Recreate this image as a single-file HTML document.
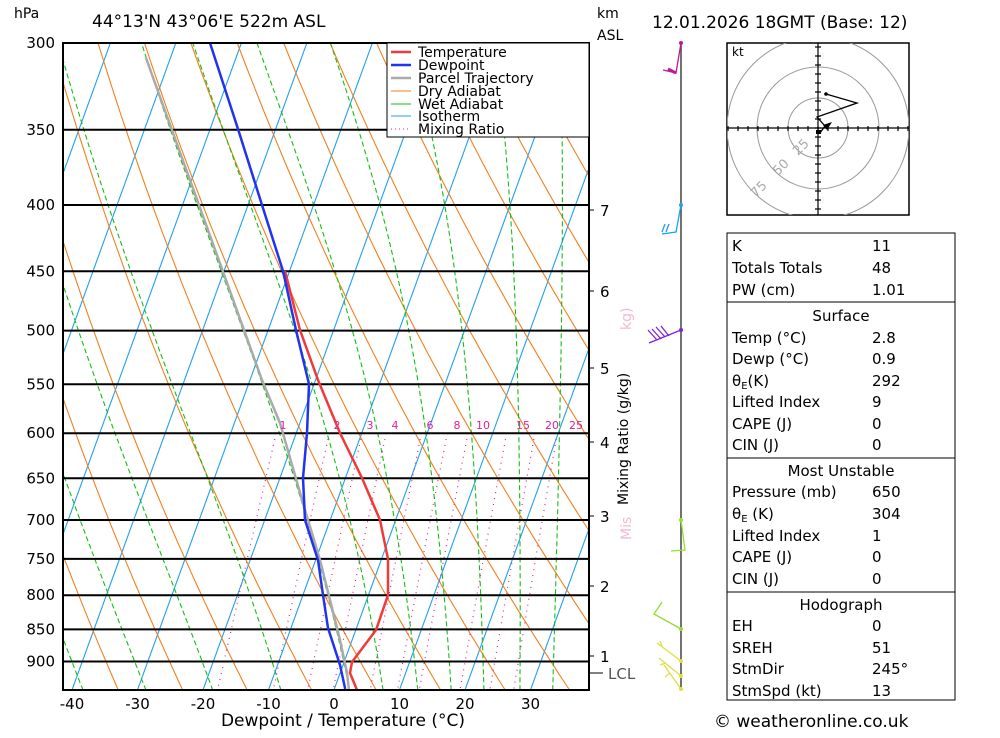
<!DOCTYPE html>
<html><head><meta charset="utf-8"><style>
body{margin:0;background:#fff;width:1000px;height:733px;overflow:hidden;font-family:"Liberation Sans","DejaVu Sans",sans-serif}
svg text{font-family:"DejaVu Sans","Liberation Sans",sans-serif}
</style></head><body>
<svg id="s" width="1000" height="733" xmlns="http://www.w3.org/2000/svg">
<defs><clipPath id="c"><rect x="63" y="43" width="526" height="647"/></clipPath>
<clipPath id="hc"><rect x="727" y="43" width="182" height="172"/></clipPath></defs>
<g id="bg" clip-path="url(#c)"></g>
<g id="iso" stroke="#000" stroke-width="2"></g>
<g id="prof" clip-path="url(#c)"></g>
<rect x="63" y="43" width="526" height="647" fill="none" stroke="#000" stroke-width="2"/>
<g font-size="15" fill="#000" text-anchor="end" id="plab"></g>
<text x="14" y="18" font-size="14">hPa</text>
<text x="92" y="27" font-size="17">44°13'N  43°06'E  522m  ASL</text>
<text x="597" y="18" font-size="14">km</text>
<text x="597" y="40" font-size="14">ASL</text>
<text x="652" y="28" font-size="17">12.01.2026  18GMT  (Base: 12)</text>
<g font-size="15" text-anchor="middle" id="tlab"></g>
<text x="343" y="726" font-size="17" text-anchor="middle">Dewpoint / Temperature (°C)</text>
<g font-size="11" fill="#e0209a" text-anchor="middle" id="mlab"></g>
<text transform="translate(628,505) rotate(-90)" font-size="14" fill="#000">Mixing Ratio (g/kg)</text>
<text transform="translate(631,540) rotate(-90)" font-size="14" fill="#f4b8d4">Mis</text>
<text transform="translate(631,330) rotate(-90)" font-size="14" fill="#f4b8d4">kg)</text>
<!-- legend -->
<rect x="387" y="43" width="202" height="94" fill="#fff" stroke="#000" stroke-width="1"/>
<g font-size="14">
<line x1="391" y1="52" x2="411" y2="52" stroke="#f03a3a" stroke-width="2.5"/><text x="418" y="57">Temperature</text>
<line x1="391" y1="65" x2="411" y2="65" stroke="#2233ee" stroke-width="2.5"/><text x="418" y="70">Dewpoint</text>
<line x1="391" y1="78" x2="411" y2="78" stroke="#aaa" stroke-width="2.5"/><text x="418" y="83">Parcel Trajectory</text>
<line x1="391" y1="91" x2="411" y2="91" stroke="#f08020" stroke-width="1"/><text x="418" y="96">Dry Adiabat</text>
<line x1="391" y1="104" x2="411" y2="104" stroke="#10c010" stroke-width="1"/><text x="418" y="109">Wet Adiabat</text>
<line x1="391" y1="116" x2="411" y2="116" stroke="#20a0f0" stroke-width="1"/><text x="418" y="121">Isotherm</text>
<line x1="391" y1="129" x2="411" y2="129" stroke="#e0209a" stroke-width="1" stroke-dasharray="1,3"/><text x="418" y="134">Mixing Ratio</text>
</g>
<g font-size="15" id="km"></g>
<line x1="681" y1="43" x2="681" y2="690" stroke="#444" stroke-width="1.5"/>
<g stroke-width="1.3" fill="none">
<polyline points="681,43 676,73 663,70" stroke="#c0189a"/><circle cx="681" cy="43" r="2" fill="#c0189a"/>
<path d="M668,69 L676,73" stroke="#c0189a" stroke-width="3"/>
<polyline points="681,205 676,232 662,234" stroke="#20a0f0"/><path d="M665,224 L662,232 M669,224 L666,232" stroke="#20a0f0"/><circle cx="681" cy="205" r="2" fill="#20a0f0"/>
<polyline points="681,330 649,343" stroke="#8020e0"/><path d="M657,340 L648,330 M661,339 L652,329 M665,337 L656,327 M669,336 L661,326" stroke="#8020e0"/><circle cx="681" cy="330" r="2" fill="#8020e0"/>
<polyline points="681,520 685,550 671,551" stroke="#90e030"/><circle cx="681" cy="520" r="2" fill="#90e030"/>
<polyline points="681,629 654,614 662,602" stroke="#90e030"/><circle cx="681" cy="629" r="2" fill="#90e030"/>
<path d="M681,661 L657,643 M662,646 L660,641 M681,676 L659,658 M666,663 L660,665 M681,689 L664,665 M670,673 L665,677" stroke="#e0e040"/>
<circle cx="681" cy="661" r="2" fill="#e0e040"/><circle cx="681" cy="676" r="2" fill="#e0e040"/><circle cx="681" cy="689" r="2" fill="#e0e040"/>
</g>
<rect x="727" y="43" width="182" height="172" fill="#fff" stroke="#000" stroke-width="1.5"/>
<g clip-path="url(#hc)" fill="none" stroke="#999">
<circle cx="818" cy="128" r="30"/><circle cx="818" cy="128" r="61"/><circle cx="818" cy="128" r="91"/>
</g>
<g stroke="#000" stroke-width="1.2" id="hax"></g>
<text x="732" y="56" font-size="12">kt</text>
<g fill="#aaa" font-size="13"><text transform="translate(798,156) rotate(-45)">25</text><text transform="translate(778,176) rotate(-45)">50</text><text transform="translate(756,198) rotate(-45)">75</text></g>
<polyline points="826,94 857,103 817,117 825,126 820,133" fill="none" stroke="#000" stroke-width="1.3"/>
<circle cx="826" cy="94" r="1.8"/><path d="M823,125 L832,122 L827,130Z"/><rect x="816" y="130" width="5" height="4"/>
<rect x="727" y="233" width="228" height="467" fill="#fff" stroke="#000" stroke-width="1"/>
<g stroke="#000"><line x1="727" y1="302" x2="955" y2="302"/><line x1="727" y1="458" x2="955" y2="458"/><line x1="727" y1="592" x2="955" y2="592"/></g>
<g font-size="15">
<text x="732" y="251">K</text><text x="872" y="251">11</text>
<text x="732" y="273">Totals Totals</text><text x="872" y="273">48</text>
<text x="732" y="295">PW (cm)</text><text x="872" y="295">1.01</text>
<text x="841" y="321" text-anchor="middle">Surface</text>
<text x="732" y="343">Temp (°C)</text><text x="872" y="343">2.8</text>
<text x="732" y="364">Dewp (°C)</text><text x="872" y="364">0.9</text>
<text x="732" y="386">θ<tspan font-size="10" dy="3">E</tspan><tspan dy="-3">(K)</tspan></text><text x="872" y="386">292</text>
<text x="732" y="407">Lifted Index</text><text x="872" y="407">9</text>
<text x="732" y="429">CAPE (J)</text><text x="872" y="429">0</text>
<text x="732" y="450">CIN (J)</text><text x="872" y="450">0</text>
<text x="841" y="476" text-anchor="middle">Most Unstable</text>
<text x="732" y="497">Pressure (mb)</text><text x="872" y="497">650</text>
<text x="732" y="519">θ<tspan font-size="10" dy="3">E</tspan><tspan dy="-3"> (K)</tspan></text><text x="872" y="519">304</text>
<text x="732" y="541">Lifted Index</text><text x="872" y="541">1</text>
<text x="732" y="562">CAPE (J)</text><text x="872" y="562">0</text>
<text x="732" y="584">CIN (J)</text><text x="872" y="584">0</text>
<text x="841" y="610" text-anchor="middle">Hodograph</text>
<text x="732" y="631">EH</text><text x="872" y="631">0</text>
<text x="732" y="653">SREH</text><text x="872" y="653">51</text>
<text x="732" y="674">StmDir</text><text x="872" y="674">245°</text>
<text x="732" y="696">StmSpd (kt)</text><text x="872" y="696">13</text>
</g>
<text x="714" y="727" font-size="17">© weatheronline.co.uk</text>
</svg>
<script>
var NS="http://www.w3.org/2000/svg";
function el(p,t,a,txt){var e=document.createElementNS(NS,t);for(var k in a)e.setAttribute(k,a[k]);if(txt!==undefined)e.textContent=txt;document.getElementById(p).appendChild(e);return e;}
function Y(p){return 43+563*Math.log(p/300);}
function X(T,p){return 334+6.55*T+0.363*(690-Y(p));}
function line(g,pts,st){var s=pts.map(function(q){return q[0].toFixed(1)+","+q[1].toFixed(1)}).join(" ");var a={points:s,fill:"none"};for(var k in st)a[k]=st[k];el(g,"polyline",a);}
for(var T=-120;T<=50;T+=10){line("bg",[[X(T,960),Y(960)],[X(T,290),Y(290)]],{stroke:"#20a0f0","stroke-width":1.1});}
for(var th=194;th<=494;th+=10){var pts=[];for(var p=960;p>=290;p-=10){pts.push([X(th*Math.pow(p/1000,0.286)-273.15,p),Y(p)]);}line("bg",pts,{stroke:"#f08020","stroke-width":1.1});}
function es(T){return 6.112*Math.exp(17.67*T/(T+243.5));}
[-58,-48,-38.3,-28.7,-18.5,-8.1,2.4,7.5,12.8,17.9,22.9,28.4,33.4].forEach(function(tb){var T=tb+273.15,p=947,pts=[];while(p>=290){pts.push([X(T-273.15,p),Y(p)]);var e=es(T-273.15),rs=0.622*e/(p-e),L=2.5e6;var g=(287*T+L*rs)/(1004+L*L*rs*0.622/(287*T*T))/p;T-=g*5;p-=5;}line("bg",pts,{stroke:"#10c010","stroke-width":1.1,"stroke-dasharray":"5,3"});});
[1,2,3,4,6,8,10,15,20,25].forEach(function(w){var pts=[];for(var p=600;p<=960;p+=10){var e=w*p/(622+w),l=Math.log(e/6.112);pts.push([X(243.5*l/(17.67-l),p),Y(p)]);}line("bg",pts,{stroke:"#e0209a","stroke-width":1.2,"stroke-dasharray":"1,5"});});
var ml=[[1,283],[2,337],[3,370],[4,395],[6,430],[8,457],[10,483],[15,523],[20,552],[25,576]];
ml.forEach(function(m){el("mlab","text",{x:m[1],y:429},String(m[0]));});
[300,350,400,450,500,550,600,650,700,750,800,850,900].forEach(function(p){var y=Y(p);el("iso","line",{x1:63,x2:589,y1:y,y2:y});el("plab","text",{x:55,y:y+5},String(p));});
for(var t=-40;t<=30;t+=10){el("tlab","text",{x:334+6.55*t,y:709},String(t));}
[[7,210],[6,291],[5,368],[4,442],[3,516],[2,586],[1,656]].forEach(function(k){el("km","line",{x1:589,x2:594,y1:k[1],y2:k[1],stroke:"#000"});el("km","text",{x:600,y:k[1]+6},String(k[0]));});
el("km","line",{x1:589,x2:603,y1:673,y2:673,stroke:"#000"});el("km","text",{x:608,y:679,fill:"#555"},"LCL");
line("prof",[[262,380],[146,58]],{stroke:"#aaa","stroke-width":2.5});
line("prof",[[349,690],[347,673],[340,640],[320,560],[305,510],[280,423],[262,380]],{stroke:"#aaa","stroke-width":2.5});
line("prof",[[357,690],[350,673],[352,662],[376,630],[388,595],[388,559],[380,520],[362,478],[340,433],[318,380],[300,330],[285,271]],{stroke:"#f03a3a","stroke-width":2.5});
line("prof",[[345,690],[345,688],[340,665],[328,628],[323,595],[318,560],[305,520],[303,478],[307,433],[309,384],[296,330],[283,271],[262,205],[238,129],[210,43]],{stroke:"#2233ee","stroke-width":2.5});
for(var i=-9;i<=9;i++){var x=818+i*10;el("hax","line",{x1:x,x2:x,y1:126,y2:131});var y=128+i*9;el("hax","line",{x1:815,x2:821,y1:y,y2:y});}
el("hax","line",{x1:727,x2:909,y1:128,y2:128});el("hax","line",{x1:818,x2:818,y1:43,y2:215});
</script>
</body></html>
